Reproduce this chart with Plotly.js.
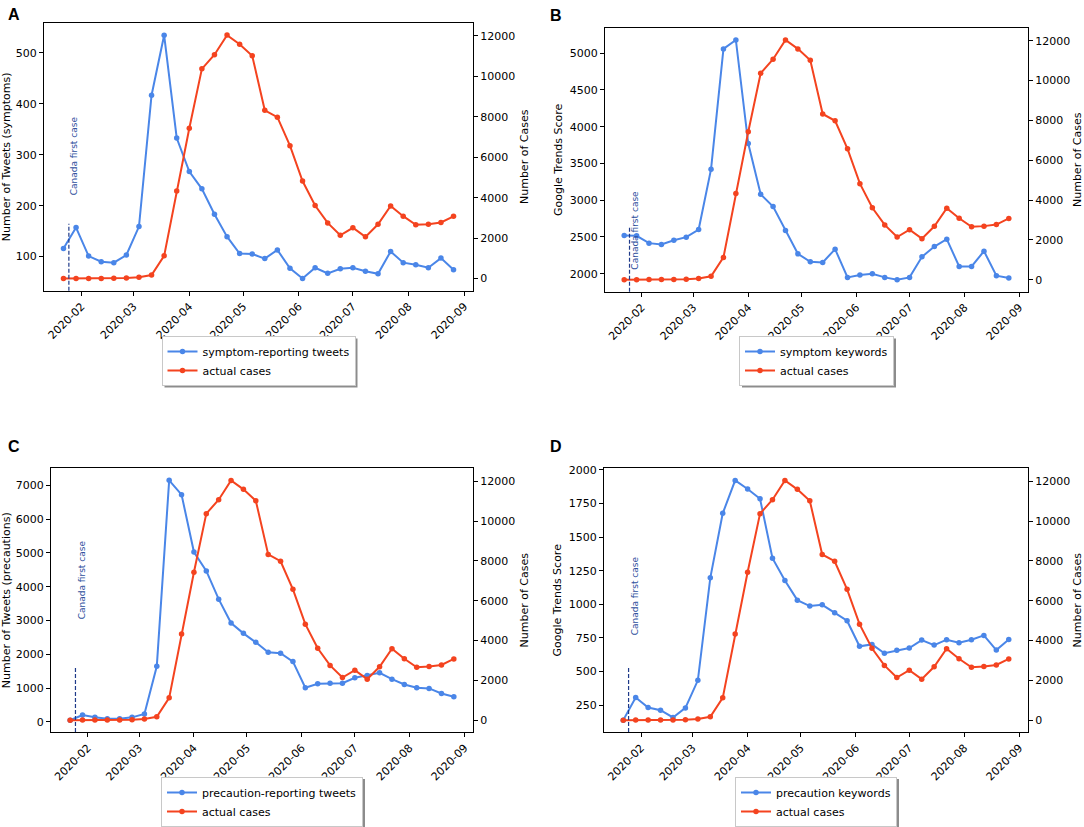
<!DOCTYPE html>
<html><head><meta charset="utf-8">
<script src="https://cdn.plot.ly/plotly-3.0.1.min.js"></script>
<style>body{margin:0;background:#fff}#chart{width:1084px;height:827px}</style>
</head><body><div id="chart"></div>
<script>
// ---- data ----
const weeks = ['2020-01-22','2020-01-29','2020-02-05','2020-02-12','2020-02-19','2020-02-26',
  '2020-03-04','2020-03-11','2020-03-18','2020-03-25','2020-04-01','2020-04-08','2020-04-15',
  '2020-04-22','2020-04-29','2020-05-06','2020-05-13','2020-05-20','2020-05-27','2020-06-03',
  '2020-06-10','2020-06-17','2020-06-24','2020-07-01','2020-07-08','2020-07-15','2020-07-22',
  '2020-07-29','2020-08-05','2020-08-12','2020-08-19','2020-08-26'];
const actualCases = [0,3,4,6,10,20,60,170,1120,4330,7430,10370,11070,12040,11590,11020,
  8320,7980,6570,4820,3610,2750,2140,2510,2060,2680,3590,3085,2655,2690,2770,3075];
const symptomTweets = [116,157,101,90,88,103,159,417,535,333,267,233,183,139,106,105,
  96,113,77,57,78,67,76,78,71,66,110,88,84,78,97,74];
const symptomKeywords = [2520,2515,2416,2398,2456,2497,2601,3423,5059,5181,3771,3080,2913,
  2587,2271,2163,2154,2334,1950,1982,2000,1950,1919,1950,2230,2370,2470,2099,2099,2307,1973,1941];
const precautionTweets = [50,206,137,98,98,137,236,1649,7147,6725,5027,4467,3633,2926,2621,
  2356,2062,2032,1787,1011,1129,1149,1149,1306,1375,1453,1267,1109,1011,992,844,746];
const precautionKeywords = [139,307,233,213,159,230,435,1197,1676,1921,1857,1785,1343,1177,
  1031,987,996,937,878,688,702,636,658,675,734,697,737,715,737,769,660,739];
const canadaFirstCase = '2020-01-25';
const canadaLabel = 'Canada first case';
const monthTicks = ['2020-02-01','2020-03-01','2020-04-01','2020-05-01','2020-06-01',
  '2020-07-01','2020-08-01','2020-09-01'];
const monthLabels = ['2020-02','2020-03','2020-04','2020-05','2020-06','2020-07','2020-08','2020-09'];
const panelLetters = ['A','B','C','D'];
const seriesNames = ['symptom-reporting tweets','symptom keywords','precaution-reporting tweets','precaution keywords'];
const leftTitles = ['Number of Tweets (symptoms)','Google Trends Score','Number of Tweets (precautions)','Google Trends Score'];
const casesName = 'actual cases';
const casesTitle = 'Number of Cases';
const leftTickVals = [[100,200,300,400,500],[2000,2500,3000,3500,4000,4500,5000],
  [0,1000,2000,3000,4000,5000,6000,7000],[250,500,750,1000,1250,1500,1750,2000]];
const casesTickVals = [0,2000,4000,6000,8000,10000,12000];
const seriesList = [symptomTweets, symptomKeywords, precautionTweets, precautionKeywords];

// ---- style / layout ----
const W = 1084, H = 827;
const BLUE = '#4A86E8', RED = '#F4431F', NAVY = '#1F3A8A';
const FONT = 'DejaVu Sans, Liberation Sans, sans-serif';
const boxes = [[44,473,23,291],[605,1028,28,292],[51,473,469,733],[604,1028,469,733]];
const leftRanges = [[33,559],[1756,5344],[-300,7500],[50,2010]];
const casesRange = [-600,12640];
const xRange = ['2020-01-11 04:00','2020-09-05 20:00'];
const labelFrac = [0.35,0.076,0.42,0.36];
const legendTopPx = [336,336,778,778];
const letterPos = [[6,14.5],[548,15.5],[6,447],[548,447]];

const data = [];
const layout = {
  width: W, height: H, margin:{l:0,r:0,t:0,b:0},
  paper_bgcolor:'#fff', plot_bgcolor:'#fff',
  font:{family:FONT, size:11, color:'#000'},
  showlegend:true, shapes:[], annotations:[]
};
const axisCommon = {
  showgrid:false, zeroline:false, showline:true, linecolor:'#000', linewidth:1,
  ticks:'outside', ticklen:4, tickwidth:1, tickcolor:'#000', tickformat:'d',
  tickfont:{family:FONT,size:11,color:'#000'}
};
const legendNames = [];
for (let i=0;i<4;i++){
  const [l,r,t,b] = boxes[i];
  const xd = [l/W, r/W], yd = [1-b/H, 1-t/H];
  const xk = i===0?'x':'x'+(i+1);
  const ylk = i===0?'y':'y'+(2*i+1);
  const yr = 'y'+(2*i+2);
  const leg = i===0?'legend':'legend'+(i+1);
  legendNames.push(leg);
  const xaxisName = i===0?'xaxis':'xaxis'+(i+1);
  const ylName = i===0?'yaxis':'yaxis'+(2*i+1);
  const yrName = 'yaxis'+(2*i+2);
  layout[xaxisName] = Object.assign({}, axisCommon, {
    domain:xd, anchor:ylk, type:'date', range:xRange, mirror:true, tickformat:null,
    tickvals:monthTicks, ticktext:monthLabels, tickangle:-45
  });
  layout[ylName] = Object.assign({}, axisCommon, {
    domain:yd, anchor:xk, range:leftRanges[i], tickvals:leftTickVals[i],
    title:{text:leftTitles[i], font:{family:FONT,size:11,color:'#000'}, standoff:4}
  });
  layout[yrName] = Object.assign({}, axisCommon, {
    domain:yd, anchor:xk, overlaying:ylk, side:'right', range:casesRange, tickvals:casesTickVals,
    title:{text:casesTitle, font:{family:FONT,size:11,color:'#000'}, standoff:6}
  });
  data.push({x:weeks, y:seriesList[i], xaxis:xk, yaxis:ylk, mode:'lines+markers',
    name:seriesNames[i], legend:leg, line:{color:BLUE,width:2}, marker:{color:BLUE,size:5.5}});
  data.push({x:weeks, y:actualCases, xaxis:xk, yaxis:yr, mode:'lines+markers',
    name:casesName, legend:leg, line:{color:RED,width:2}, marker:{color:RED,size:5.5}});
  layout[leg] = {x:(l+r)/2/W, xanchor:'center', y:1-legendTopPx[i]/H, yanchor:'top',
    xref:'paper', yref:'paper', bgcolor:'#fff', bordercolor:'#c8c8c8', borderwidth:1,
    font:{family:FONT,size:11,color:'#000'}, traceorder:'normal', itemwidth:30};
  layout.shapes.push({type:'line', xref:xk, yref:ylk+' domain', x0:canadaFirstCase, x1:canadaFirstCase,
    y0:0, y1:0.25, line:{color:NAVY, width:1.2, dash:'4px,2px'}});
  layout.annotations.push({xref:xk, yref:ylk+' domain', x:canadaFirstCase, y:labelFrac[i],
    text:canadaLabel, textangle:-90, showarrow:false, xanchor:'left', yanchor:'bottom', xshift:-1,
    font:{family:FONT,size:9,color:'#2D4E9C'}});
  layout.annotations.push({xref:'paper', yref:'paper', x:letterPos[i][0]/W, y:1-letterPos[i][1]/H,
    xanchor:'left', yanchor:'middle', text:'<b>'+panelLetters[i]+'</b>', showarrow:false,
    font:{family:'Liberation Sans, Arial, sans-serif', size:16, color:'#000'}});
}
Plotly.newPlot('chart', data, layout, {displayModeBar:false, staticPlot:true}).then(gd => {
  // legend drop shadows (matplotlib shadow=True look)
  const svgBox = gd.querySelector('.main-svg').getBoundingClientRect();
  const shapes = layout.shapes.slice();
  const groups = Array.from(gd.querySelectorAll('g')).filter(g => {
    const c = (g.getAttribute('class') || '').split(' ');
    return c.some(k => legendNames.includes(k));
  });
  groups.forEach(g => {
    const rect = g.querySelector('rect.bg');
    if (!rect) return;
    const bb = rect.getBoundingClientRect();
    const x0 = bb.left - svgBox.left + 2.5, x1 = bb.right - svgBox.left + 2.5;
    const y0 = bb.top - svgBox.top + 2.5, y1 = bb.bottom - svgBox.top + 2.5;
    shapes.push({type:'rect', xref:'paper', yref:'paper', layer:'above',
      x0:x0/W, x1:x1/W, y0:1-y1/H, y1:1-y0/H, fillcolor:'rgba(0,0,0,0.45)', line:{width:0}});
  });
  return Plotly.relayout(gd, {shapes});
});
</script></body></html>
